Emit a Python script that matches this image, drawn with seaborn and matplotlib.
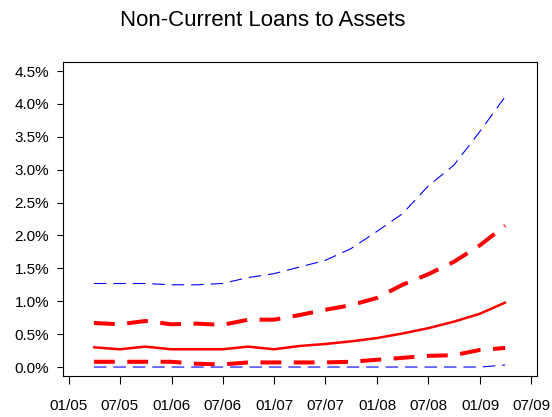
import pandas as pd
import seaborn as sns
import matplotlib.pyplot as plt
import matplotlib.dates as mdates
from matplotlib.ticker import FuncFormatter

# Quarter-end dates
quarter_ends = pd.to_datetime([
    '2005-03-31', '2005-06-30', '2005-09-30', '2005-12-31',
    '2006-03-31', '2006-06-30', '2006-09-30', '2006-12-31',
    '2007-03-31', '2007-06-30', '2007-09-30', '2007-12-31',
    '2008-03-31', '2008-06-30', '2008-09-30', '2008-12-31',
    '2009-03-31',
])

# Non-current loans to assets (%), by percentile
p90 = [1.27, 1.27, 1.27, 1.25, 1.25, 1.27, 1.36, 1.42, 1.52, 1.62, 1.80, 2.06, 2.33, 2.75, 3.07, 3.58, 4.11]
p75 = [0.67, 0.65, 0.70, 0.65, 0.66, 0.64, 0.72, 0.72, 0.79, 0.87, 0.94, 1.05, 1.25, 1.41, 1.60, 1.85, 2.15]
p50 = [0.30, 0.27, 0.31, 0.27, 0.27, 0.27, 0.31, 0.27, 0.32, 0.35, 0.39, 0.44, 0.51, 0.59, 0.69, 0.81, 0.98]
p25 = [0.08, 0.08, 0.08, 0.08, 0.05, 0.04, 0.07, 0.07, 0.07, 0.07, 0.08, 0.11, 0.14, 0.17, 0.18, 0.26, 0.29]
p10 = [0.00, 0.00, 0.00, 0.00, 0.00, 0.00, 0.00, 0.00, 0.00, 0.00, 0.00, 0.00, 0.00, 0.00, 0.00, 0.00, 0.03]

tick_dates = pd.date_range('2005-01-01', '2009-07-01', freq='6MS')

sns.set_style('ticks')
plt.rcParams['font.family'] = ['Liberation Sans', 'DejaVu Sans']
plt.rcParams['lines.scale_dashes'] = False
plt.rcParams['text.color'] = 'black'

fig = plt.figure(figsize=(5.52, 4.17), dpi=100)
ax = fig.add_axes([0.1141, 0.099, 0.8587, 0.7523])

thin = dict(color='#0000FF', linewidth=0.8, linestyle=(0, (9, 5)))
thick = dict(color='#FF0000', linewidth=2.9, linestyle=(0, (15, 9)), dash_capstyle='butt')
solid = dict(color='#FF0000', linewidth=1.8)

sns.lineplot(x=quarter_ends, y=p90, ax=ax, **thin)
sns.lineplot(x=quarter_ends, y=p75, ax=ax, **thick)
sns.lineplot(x=quarter_ends, y=p50, ax=ax, **solid)
sns.lineplot(x=quarter_ends, y=p25, ax=ax, **thick)
sns.lineplot(x=quarter_ends, y=p10, ax=ax, **thin)

ax.set_xlim(pd.Timestamp('2004-12-11'), pd.Timestamp('2009-07-22'))
ax.set_ylim(-0.132, 4.637)
ax.set_xticks(tick_dates)
ax.xaxis.set_major_formatter(mdates.DateFormatter('%m/%y'))
ax.set_yticks([0, 0.5, 1.0, 1.5, 2.0, 2.5, 3.0, 3.5, 4.0, 4.5])
ax.yaxis.set_major_formatter(FuncFormatter(lambda v, p: f'{v:.1f}%'))

ax.tick_params(axis='x', length=5.8, width=0.8, pad=11, labelsize=11, colors='black')
ax.tick_params(axis='y', length=4.3, width=0.8, pad=5.5, labelsize=11, colors='black')
for s in ax.spines.values():
    s.set_visible(True)
    s.set_color('black')
    s.set_linewidth(0.8)
ax.set_xlabel('')
ax.set_ylabel('')

fig.text(263 / 552, 1 - 26 / 417, 'Non-Current Loans to Assets',
         ha='center', va='baseline', fontsize=16, color='black')

plt.savefig('out.png', dpi=100)
plt.close()
